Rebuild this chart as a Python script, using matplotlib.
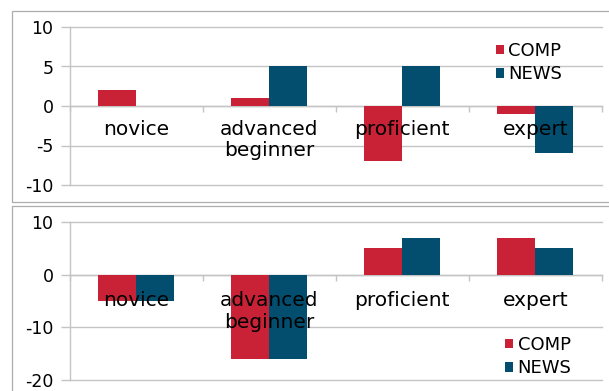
import matplotlib
matplotlib.use("Agg")
import matplotlib.pyplot as plt
import numpy as np
from matplotlib.patches import Rectangle

categories = ["novice", "advanced\nbeginner", "proficient", "expert"]
series = ["COMP", "NEWS"]
top_comp = [2, 1, -7, -1]
top_news = [0, 5, 5, -6]
bot_comp = [-5, -16, 5, 7]
bot_news = [-5, -16, 7, 5]
top_ticks = [-10, -5, 0, 5, 10]
bot_ticks = [-20, -10, 0, 10]

COMP_C = "#C92236"
NEWS_C = "#034E6E"
GRID_C = "#C4C4C4"

plt.rcParams["font.family"] = ["DejaVu Sans"]

W, H = 609, 391
fig = plt.figure(figsize=(W / 100, H / 100), dpi=100)

# panel frames
for (y0, y1) in [(10.5, 201.5), (205.5, 396)]:
    fig.patches.append(Rectangle((12 / W, 1 - y1 / H), (620 - 12) / W, (y1 - y0) / H,
                                 transform=fig.transFigure, fill=False,
                                 edgecolor="#ADADAD", linewidth=0.9, zorder=0))

def panel(rect, comp, news, ticks, label_pad, leg_anchor):
    ax = fig.add_axes(rect)
    x = np.arange(len(categories))
    w = 0.285
    ax.bar(x - w / 2, comp, w, color=COMP_C, label=series[0], zorder=3,
           linewidth=0)
    ax.bar(x + w / 2, news, w, color=NEWS_C, label=series[1], zorder=3,
           linewidth=0)
    ax.set_xlim(-0.5, len(categories) - 0.5)
    ax.set_ylim(ticks[0], ticks[-1])
    ax.set_yticks(ticks)
    ax.set_yticklabels([str(t) for t in ticks], fontsize=12.5)
    ax.yaxis.grid(True, color=GRID_C, linewidth=1.0, zorder=0)
    for gl in ax.get_ygridlines():
        gl.set_clip_on(False)
    ax.set_axisbelow(True)
    ax.xaxis.set_zorder(5)
    for s in ["top", "right"]:
        ax.spines[s].set_visible(False)
    ax.spines["left"].set_color(GRID_C)
    ax.spines["left"].set_linewidth(1.0)
    ax.spines["bottom"].set_position(("data", 0))
    ax.spines["bottom"].set_color(GRID_C)
    ax.spines["bottom"].set_linewidth(1.0)
    ax.spines["bottom"].set_zorder(2)
    ax.tick_params(axis="y", length=6.5, width=1.0, color=GRID_C, pad=5)
    ax.set_xticks(x)
    ax.set_xticklabels(categories, fontsize=14.5, linespacing=1.15)
    ax.tick_params(axis="x", which="major", length=0, pad=label_pad)
    ax.set_xticks(np.arange(len(categories) + 1) - 0.5, minor=True)
    ax.tick_params(axis="x", which="minor", length=4, width=1.0, color=GRID_C)
    leg = ax.legend(loc="center left", bbox_to_anchor=leg_anchor, frameon=False,
                    fontsize=13, handlelength=0.45, handleheight=0.45,
                    handletextpad=0.25, labelspacing=0.3, borderpad=0,
                    borderaxespad=0)
    leg.set_zorder(6)
    return ax

ax1 = panel([69.5 / W, 1 - 185 / H, 532.5 / W, 158 / H], top_comp, top_news,
            top_ticks, 10, (0.80, 0.775))
ax2 = panel([69.5 / W, 1 - 380 / H, 532.5 / W, 158 / H], bot_comp, bot_news,
            bot_ticks, 12, (0.818, 0.148))

fig.savefig("out.png", dpi=100)
